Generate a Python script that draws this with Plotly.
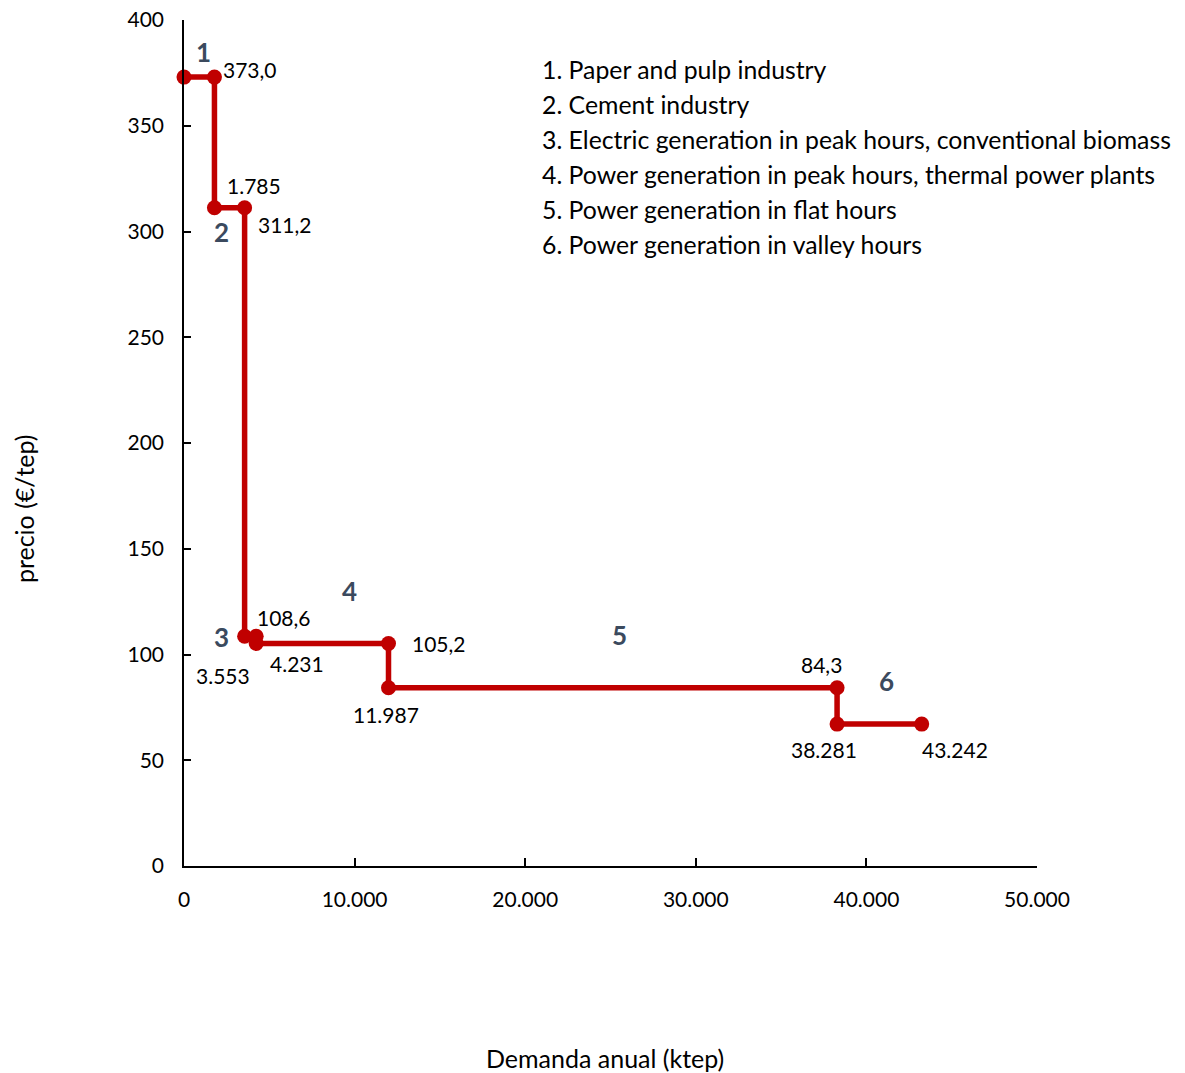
import plotly.graph_objects as go

# Step demand curve: cumulative annual demand (ktep) vs price (€/tep)
demand = [0, 1785, 1785, 3553, 3553, 4231, 4231, 11987, 11987, 38281, 38281, 43242]
price = [373.0, 373.0, 311.2, 311.2, 108.6, 108.6, 105.2, 105.2, 84.3, 84.3, 67.1, 67.1]

# Value labels: (point index, text, xshift px, yshift px)
value_labels = [
    (1, "373,0", 36, 8),
    (2, "1.785", 40, 22),
    (3, "311,2", 40, -17),
    (5, "108,6", 28, 19),
    (4, "3.553", -22, -39),
    (6, "4.231", 41, -20),
    (7, "105,2", 50, 0),
    (8, "11.987", -3, -27),
    (9, "84,3", -16, 23),
    (10, "38.281", -13, -25),
    (11, "43.242", 33, -25),
]

# Segment numbers and their positions
segment_ids = ["1", "2", "3", "4", "5", "6"]
segment_x = [1114, 2227, 2227, 9730, 25498, 41149]
segment_y = [384.9, 299.8, 108.3, 130.0, 109.2, 87.5]

segment_names = [
    "1. Paper and pulp industry",
    "2. Cement industry",
    "3. Electric generation in peak hours, conventional biomass",
    "4. Power generation in peak hours, thermal power plants",
    "5. Power generation in flat hours",
    "6. Power generation in valley hours",
]

x_ticks = [0, 10000, 20000, 30000, 40000, 50000]
x_tick_text = ["0", "10.000", "20.000", "30.000", "40.000", "50.000"]
y_ticks = [0, 50, 100, 150, 200, 250, 300, 350, 400]

FONT = "Lato"
RED = "#C00000"
SLATE = "#3B4A5E"

fig = go.Figure()
fig.add_trace(go.Scatter(
    x=demand, y=price, mode="lines+markers",
    line=dict(color=RED, width=5.5),
    marker=dict(color=RED, size=15),
    showlegend=False, hoverinfo="skip", cliponaxis=False,
))

annotations = []
for idx, text, dx, dy in value_labels:
    annotations.append(dict(
        x=demand[idx], y=price[idx], xref="x", yref="y", text=text,
        showarrow=False, xshift=dx, yshift=dy,
        font=dict(family=FONT, size=21, color="black"),
    ))

for sid, sx, sy in zip(segment_ids, segment_x, segment_y):
    annotations.append(dict(
        x=sx, y=sy, xref="x", yref="y", text=f"<b>{sid}</b>",
        showarrow=False, font=dict(family=FONT, size=26, color=SLATE),
    ))

for i, name in enumerate(segment_names):
    annotations.append(dict(
        x=0.4174, y=0.942 - i * 35 / 846, xref="paper", yref="paper",
        text=name, showarrow=False, xanchor="left", yanchor="middle",
        font=dict(family=FONT, size=24.8, color="black"),
    ))

annotations.append(dict(
    x=0.4936, y=-0.227, xref="paper", yref="paper", text="Demanda anual (ktep)",
    showarrow=False, xanchor="center", yanchor="middle",
    font=dict(family=FONT, size=25, color="black"),
))
annotations.append(dict(
    x=-0.1876, y=0.423, xref="paper", yref="paper", text="precio (€/tep)",
    showarrow=False, xanchor="center", yanchor="middle", textangle=-90,
    font=dict(family=FONT, size=25, color="black"),
))

fig.update_layout(
    width=1185, height=1073,
    margin=dict(l=184, r=148, t=20, b=207),
    paper_bgcolor="white", plot_bgcolor="white",
    font=dict(family=FONT, size=21, color="black"),
    annotations=annotations,
)
fig.update_xaxes(
    range=[0, 50000], tickvals=x_ticks, ticktext=x_tick_text,
    showgrid=False, zeroline=False, showline=True, linecolor="black", linewidth=1.5,
    ticks="inside", ticklen=8, tickwidth=1.5, tickcolor="black",
    ticklabelstandoff=14, automargin=False,
)
fig.update_yaxes(
    range=[0, 400], tickvals=y_ticks,
    showgrid=False, zeroline=False, showline=True, linecolor="black", linewidth=1.5,
    ticks="inside", ticklen=7, tickwidth=1.5, tickcolor="black",
    ticklabelstandoff=14, automargin=False,
)

fig.write_html("out.html")
